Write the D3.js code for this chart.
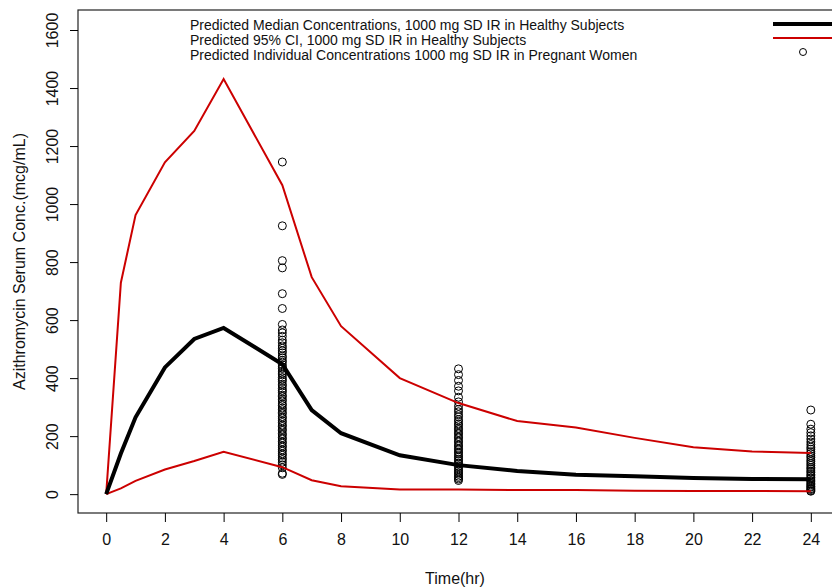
<!DOCTYPE html>
<html>
<head>
<meta charset="utf-8">
<script src="https://cdnjs.cloudflare.com/ajax/libs/d3/7.8.5/d3.min.js"></script>
<style>
  body { margin: 0; background: #fff; }
  svg { display: block; font-family: "Liberation Sans", Arial, sans-serif; }
</style>
</head>
<body>
<div class="svgContainer"></div>
<script>
// Statics
var TIME = [0, 0.5, 1, 2, 3, 4, 6, 7, 8, 10, 12, 14, 16, 18, 20, 22, 24];
var MEDIAN = [0, 140, 265, 437, 535, 573, 448, 290, 210, 134, 100, 80, 67, 62, 56, 52, 51];
var UPPER = [0, 729, 962, 1144, 1252, 1431, 1065, 748, 579, 400, 314, 252, 230, 194, 162, 147, 142];
var LOWER = [0, 20, 46, 85, 114, 146, 93, 48, 27, 16, 16, 14, 14, 12, 11, 11, 10];

// individual predicted concentrations in pregnant women
var CONC_6 = [1145, 925, 805, 780, 691, 640, 585, 566, 556, 544, 531, 522, 511, 503, 494, 487, 476, 470, 461, 455, 446, 439, 433, 424, 417, 411, 402, 395, 389, 379, 373, 364, 357, 351, 341, 336, 327, 321, 311, 306, 297, 291, 282, 277, 267, 262, 253, 247, 238, 233, 224, 219, 209, 204, 195, 190, 181, 176, 167, 162, 153, 148, 139, 134, 125, 119, 110, 101, 91, 72, 68];
var CONC_12 = [432, 412, 392, 372, 356, 334, 318, 303, 292, 284, 274, 267, 257, 251, 242, 236, 227, 222, 213, 208, 199, 194, 185, 180, 171, 166, 158, 153, 145, 140, 132, 127, 120, 115, 108, 103, 96, 91, 84, 79, 73, 68, 62, 57, 52, 47];
var CONC_24 = [290, 241, 224, 212, 201, 190, 180, 171, 162, 155, 146, 140, 132, 126, 118, 112, 105, 99, 92, 87, 80, 75, 68, 63, 57, 52, 46, 42, 36, 32, 27, 24, 19, 16, 12, 10];

var X_TICKS = [0, 2, 4, 6, 8, 10, 12, 14, 16, 18, 20, 22, 24];
var Y_TICKS = [0, 200, 400, 600, 800, 1000, 1200, 1400, 1600];

var LEGEND = ["Predicted Median Concentrations, 1000 mg SD IR in Healthy Subjects",
              "Predicted 95% CI, 1000 mg SD IR in Healthy Subjects",
              "Predicted Individual Concentrations 1000 mg SD IR in Pregnant Women"];
var RED = "#cc0000";
// End statics

var W = 832, H = 588;
var box = {left: 78, top: 10, bottom: 513, right: 839};

var svg = d3.select(".svgContainer").append("svg")
    .attr("width", W)
    .attr("height", H);

// Define the scales (R style 4% padding)
var scaleX = d3.scaleLinear()
    .domain([-0.96, 24.96])
    .range([box.left, box.right]);

var scaleY = d3.scaleLinear()
    .domain([-65, 1669])
    .range([box.bottom, box.top]);

var line = d3.line()
    .x(function(d) { return scaleX(d[0]); })
    .y(function(d) { return scaleY(d[1]); });

function pairs(vals) {
    return TIME.map(function(t, i) { return [t, vals[i]]; });
}

// scatter points
var points = [];
CONC_6.forEach(function(v) { points.push([6, v]); });
CONC_12.forEach(function(v) { points.push([12, v]); });
CONC_24.forEach(function(v) { points.push([24, v]); });

svg.append("g").selectAll("circle")
    .data(points)
    .enter().append("circle")
    .attr("cx", function(d) { return scaleX(d[0]); })
    .attr("cy", function(d) { return scaleY(d[1]); })
    .attr("r", 4)
    .attr("fill", "none")
    .attr("stroke", "black")
    .attr("stroke-width", 1);

// CI lines
[UPPER, LOWER].forEach(function(vals) {
    svg.append("path")
        .attr("d", line(pairs(vals)))
        .attr("fill", "none")
        .attr("stroke", RED)
        .attr("stroke-width", 2);
});

// median
svg.append("path")
    .attr("d", line(pairs(MEDIAN)))
    .attr("fill", "none")
    .attr("stroke", "black")
    .attr("stroke-width", 4);

// box
svg.append("rect")
    .attr("x", box.left)
    .attr("y", box.top)
    .attr("width", box.right - box.left)
    .attr("height", box.bottom - box.top)
    .attr("fill", "none")
    .attr("stroke", "#222")
    .attr("stroke-width", 1.2);

// axes
var xAxis = d3.axisBottom(scaleX).tickValues(X_TICKS).tickSize(9).tickPadding(12);
var gx = svg.append("g")
    .attr("transform", "translate(0," + box.bottom + ")")
    .call(xAxis);
gx.select(".domain").remove();
gx.selectAll("text").attr("font-size", 16).attr("font-family", "Liberation Sans, Arial, sans-serif").attr("fill", "#111");

var yAxis = d3.axisLeft(scaleY).tickValues(Y_TICKS).tickSize(8).tickFormat(d3.format("d"));
var gy = svg.append("g")
    .attr("transform", "translate(" + box.left + ",0)")
    .call(yAxis);
gy.select(".domain").remove();
gy.selectAll("text")
    .attr("font-size", 16)
    .attr("font-family", "Liberation Sans, Arial, sans-serif")
    .attr("fill", "#111")
    .attr("x", null).attr("dy", null).attr("y", null)
    .attr("text-anchor", "middle")
    .attr("transform", "translate(-20,0) rotate(-90)");

// axis titles
svg.append("text")
    .attr("x", (box.left + W) / 2 + 0)
    .attr("y", 584)
    .attr("text-anchor", "middle")
    .attr("font-size", 16)
    .attr("fill", "#111")
    .text("Time(hr)");

svg.append("text")
    .attr("transform", "translate(25," + ((box.top + box.bottom) / 2) + ") rotate(-90)")
    .attr("text-anchor", "middle")
    .attr("font-size", 16)
    .attr("fill", "#111")
    .text("Azithromycin Serum Conc.(mcg/mL)");

// legend
var leg = svg.append("g");
leg.selectAll("text")
    .data(LEGEND)
    .enter().append("text")
    .attr("x", 190)
    .attr("y", function(d, i) { return 30 + i * 15; })
    .attr("font-size", 14)
    .attr("fill", "#111")
    .text(function(d) { return d; });

leg.append("line")
    .attr("x1", 773).attr("x2", W).attr("y1", 24).attr("y2", 24)
    .attr("stroke", "black").attr("stroke-width", 4);
leg.append("line")
    .attr("x1", 773).attr("x2", W).attr("y1", 38).attr("y2", 38)
    .attr("stroke", RED).attr("stroke-width", 2);
leg.append("circle")
    .attr("cx", 803).attr("cy", 52).attr("r", 3.5)
    .attr("fill", "none").attr("stroke", "black").attr("stroke-width", 1);
</script>
</body>
</html>
